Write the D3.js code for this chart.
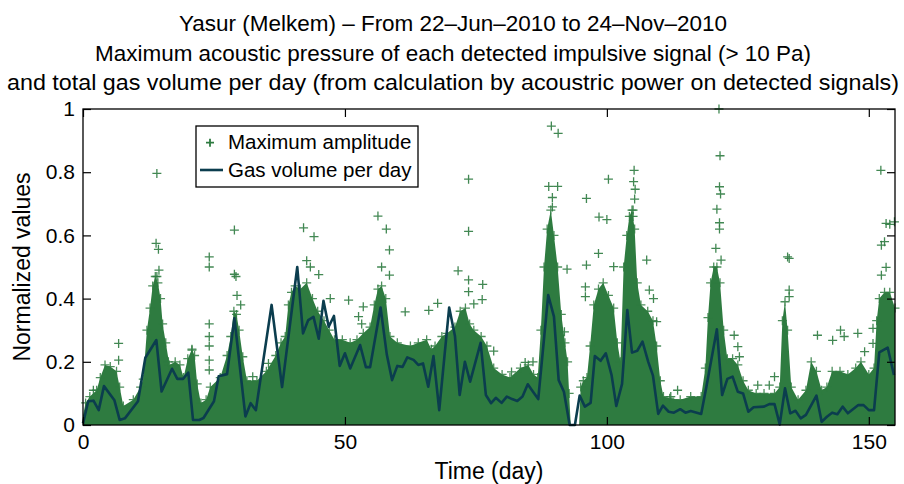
<!DOCTYPE html>
<html><head><meta charset="utf-8">
<script src="https://cdn.jsdelivr.net/npm/d3@7"></script>
<style>
html,body{margin:0;padding:0;background:#fff;}
svg text{font-family:"Liberation Sans",Arial,Helvetica,sans-serif;fill:#000;}
</style></head>
<body><svg id="c" width="904" height="484"></svg>
<script>
// ---------- data ----------
const titleLines = [
  "Yasur (Melkem) \u2013 From 22\u2013Jun\u20132010 to 24\u2013Nov\u20132010",
  "Maximum acoustic pressure of each detected impulsive signal (> 10 Pa)",
  "and total gas volume per day (from calculation by acoustric power on detected signals)"
];
const xLabel = "Time (day)";
const yLabel = "Normalized values";
const xTicks = [0, 50, 100, 150];
const yTicks = [0, 0.2, 0.4, 0.6, 0.8, 1];
const legendLabels = ["Maximum amplitude", "Gas volume per day"];

// gas volume per day: [day, normalized value]
const gasVolume = [
 [0,0.005],[1,0.075],[2,0.077],[3,0.047],[4,0.123],[6,0.078],[7,0.016],[8,0.021],[10.5,0.075],[11.9,0.213],
 [14,0.269],[15,0.106],[17,0.178],[18,0.146],[19.1,0.146],[20.1,0.166],[21,0.016],[22.2,0.016],[23,0.022],
 [25,0.075],[25.9,0.154],[27.5,0.161],[28.9,0.338],[31,0.027],[32,0.069],[33,0.047],[36,0.38],[38,0.12],
 [40.9,0.5],[42,0.29],[43,0.332],[44,0.342],[45,0.273],[45.9,0.393],[46.9,0.311],[47.9,0.345],[49,0.187],
 [50,0.227],[51,0.179],[52.9,0.253],[54,0.183],[54.8,0.183],[56.8,0.372],[58,0.222],[59,0.142],[60,0.187],
 [61,0.184],[61.9,0.214],[63.1,0.206],[64,0.19],[64.9,0.195],[65.9,0.121],[66.9,0.218],[68,0.047],[69.9,0.372],
 [71,0.282],[71.9,0.095],[72.9,0.2],[73.9,0.137],[75.9,0.26],[76.9,0.095],[77.9,0.069],[78.8,0.086],[79.9,0.07],
 [80.9,0.09],[81.9,0.082],[82.9,0.076],[83.9,0.09],[84.9,0.129],[85.9,0.105],[86.9,0.082],[88.8,0.411],
 [89.9,0.343],[90.8,0.142],[91.8,0.105],[92.9,0],[93.9,0],[94.8,0.093],[95.8,0.058],[96.9,0.07],[97.7,0.218],
 [98.8,0.203],[99.8,0.227],[100.9,0.158],[101.8,0.06],[102.9,0.13],[103.9,0.364],[104.8,0.229],[105.8,0.235],
 [106.8,0.264],[107.9,0.2],[108.8,0.156],[109.8,0.035],[110.7,0.061],[111.8,0.042],[112.8,0.039],[114,0.05],
 [115,0.039],[116,0.044],[118,0.035],[119,0.121],[121,0.303],[122,0.095],[123,0.146],[124,0.153],[125,0.105],
 [126,0.1],[127,0.042],[128,0.056],[130,0.058],[131,0.066],[132,0.066],[133,0.002],[134,0.116],[135,0.037],
 [136,0.045],[137,0.021],[138,0.032],[140,0.093],[141,0.01],[142,0.026],[143,0.039],[144,0.034],[145,0.058],
 [146,0.037],[148,0.063],[149,0.063],[150,0.047],[151,0.047],[152,0.23],[153.6,0.245],[154.8,0.158]
];

// upper edge of the dense cloud of maximum-amplitude points: [day, normalized value]
const ampEnvelope = [
 [0,0.03],[0.5,0.07],[1.3,0.09],[2.6,0.11],[3.3,0.15],[4.2,0.19],[5.2,0.185],[6.4,0.17],[7.0,0.12],[7.7,0.06],
 [9.6,0.08],[11.0,0.12],[11.5,0.145],[12.2,0.3],[12.8,0.37],[13.3,0.44],[13.8,0.47],[14.3,0.45],[14.8,0.40],
 [15.2,0.32],[15.8,0.26],[16.5,0.19],[17.6,0.2],[18.5,0.19],[19.2,0.15],[20.0,0.21],[20.8,0.24],[21.3,0.22],
 [21.8,0.13],[22.5,0.07],[23.5,0.08],[24.3,0.12],[26.2,0.15],[27.5,0.22],[28.2,0.28],[28.8,0.36],[29.3,0.35],
 [29.8,0.3],[30.5,0.216],[31.3,0.14],[33.2,0.14],[35.0,0.17],[36.8,0.22],[37.8,0.26],[38.6,0.28],[39.2,0.38],
 [39.8,0.42],[40.5,0.44],[41.5,0.43],[42.7,0.45],[43.8,0.4],[44.8,0.36],[46.0,0.33],[47.0,0.30],[48.0,0.27],
 [49.5,0.27],[51.0,0.26],[52.3,0.27],[53.5,0.29],[54.8,0.31],[55.6,0.38],[56.3,0.43],[57.0,0.44],[57.8,0.4],
 [58.6,0.28],[60,0.26],[62.5,0.25],[64,0.26],[65.6,0.27],[66.5,0.24],[67.2,0.25],[68.5,0.28],[69.5,0.29],
 [71,0.31],[72,0.36],[73,0.37],[73.8,0.32],[74.6,0.30],[76,0.28],[77.1,0.25],[78.4,0.18],[80,0.16],[81.5,0.15],
 [83.5,0.18],[85,0.19],[86,0.16],[86.8,0.15],[87.4,0.3],[88,0.5],[88.6,0.62],[89.3,0.68],[89.9,0.6],[90.6,0.5],
 [91.3,0.35],[92.0,0.26],[92.5,0.2],[92.8,0.1],[93.1,0.0],[94.7,0.0],[95.0,0.12],[95.5,0.14],[96.2,0.15],
 [96.8,0.25],[97.5,0.38],[98.4,0.43],[99.3,0.45],[100.3,0.41],[101.3,0.37],[102,0.26],[102.6,0.2],[103.2,0.5],
 [103.8,0.6],[104.3,0.66],[104.8,0.68],[105.3,0.62],[105.8,0.45],[106.5,0.38],[107.8,0.36],[108.8,0.33],
 [109.5,0.25],[110.2,0.14],[110.8,0.09],[112,0.085],[114,0.08],[116,0.09],[118,0.09],[118.8,0.18],[119.3,0.34],
 [119.8,0.45],[120.4,0.5],[121.0,0.5],[121.6,0.45],[122.3,0.3],[123,0.21],[124,0.21],[125,0.19],[126,0.14],
 [127,0.11],[128.5,0.1],[130,0.1],[132,0.1],[133,0.12],[133.5,0.33],[134.0,0.39],[134.5,0.3],[135.2,0.12],
 [136.5,0.08],[138,0.11],[139,0.2],[140,0.17],[141,0.11],[142,0.12],[143,0.17],[144.5,0.17],[146,0.16],
 [147.5,0.18],[148.5,0.2],[150,0.16],[151,0.18],[151.5,0.33],[152,0.4],[153,0.42],[154,0.42],[155,0.37]
];

// individual maximum-amplitude points standing out of the dense cloud: [day, normalized value]
const ampPoints = [
 [1.98,0.11],[6.8,0.258],[6.8,0.205],[14.1,0.796],[13.95,0.575],[14.4,0.556],[14.5,0.49],[14.1,0.47],[16.3,0.2],
 [20.8,0.237],[24.1,0.532],[24.1,0.5],[24.1,0.32],[24.1,0.28],[24.1,0.25],[24.1,0.205],[24.1,0.174],[28.9,0.617],
 [28.9,0.477],[29.2,0.47],[29.4,0.41],[30.1,0.38],[32.4,0.153],[35.4,0.195],[42.1,0.624],[44.1,0.596],[42.7,0.52],
 [43.4,0.5],[45,0.476],[47.2,0.40],[50.7,0.395],[52.6,0.343],[56.3,0.661],[57.9,0.62],[58.5,0.554],[57.0,0.50],
 [58.5,0.474],[53.5,0.374],[53.2,0.32],[61.5,0.358],[67.7,0.385],[66,0.363],[71.6,0.488],[73.6,0.778],
 [73.6,0.613],[73.6,0.459],[73.6,0.422],[76.3,0.445],[76.2,0.397],[74.6,0.383],[78.4,0.234],[84.4,0.198],
 [85.9,0.2],[81.8,0.168],[89.4,0.946],[90.7,0.923],[88.9,0.755],[90.6,0.755],[89.6,0.72],[89.6,0.69],
 [92.4,0.493],[91.9,0.295],[96.1,0.717],[96.1,0.506],[95.9,0.437],[95.9,0.406],[98.5,0.658],[100.0,0.65],
 [100.3,0.778],[98.4,0.543],[101.3,0.501],[105.2,0.806],[105.1,0.77],[105.4,0.746],[105.3,0.715],[105,0.68],
 [105,0.66],[107.6,0.522],[108.1,0.427],[108.9,0.40],[109.5,0.327],[121.4,1.0],[121.6,0.852],[121.5,0.754],
 [121.7,0.731],[121,0.683],[121.5,0.64],[121.5,0.62],[120.8,0.559],[121.8,0.522],[124.3,0.284],[125,0.248],
 [125.3,0.216],[134.5,0.532],[134.8,0.527],[134.8,0.427],[134.8,0.406],[132,0.153],[128.8,0.126],[131,0.126],
 [113.5,0.11],[112.2,0.09],[140.2,0.284],[144.6,0.30],[145.3,0.28],[143.1,0.268],[147.9,0.29],[150.8,0.306],
 [150.8,0.258],[149.2,0.232],[152.4,0.474],[153.3,0.499],[152.4,0.569],[153.3,0.638],[154.9,0.643],[154,0.635],
 [153,0.58],[152.3,0.806]
];

// ---------- layout ----------
const plot = {left: 83, right: 895, top: 109, bottom: 425};
const green = "#2e7b40", lineCol = "#0b3d4e";
const font = '"Liberation Sans",Arial,Helvetica,sans-serif';
const titleY = [31, 60.5, 89.5];
const titleWidth = [548, 716, 892];

const svg = d3.select("#c");
const x = d3.scaleLinear().domain([0, 155]).range([plot.left, plot.right]);
const y = d3.scaleLinear().domain([0, 1]).range([plot.bottom, plot.top]);

// title
svg.append("g").selectAll("text").data(titleLines).join("text")
  .attr("x", 453).attr("y", (d, i) => titleY[i])
  .attr("text-anchor", "middle").style("font-size", "22.5px")
  .attr("textLength", (d, i) => titleWidth[i]).attr("lengthAdjust", "spacingAndGlyphs")
  .text(d => d);

// cloud of amplitude points
svg.append("clipPath").attr("id", "pc").append("rect")
  .attr("x", plot.left).attr("y", plot.top - 6).attr("width", plot.right - plot.left + 6).attr("height", plot.bottom - plot.top + 6);

const area = d3.area().x(d => x(d[0])).y0(y(0)).y1(d => y(d[1]));
svg.append("path").datum(ampEnvelope).attr("d", area).attr("fill", green).attr("clip-path", "url(#pc)");

const plus = "M-4.5,0H4.5M0,-4.5V4.5";
svg.append("g").selectAll("path").data(ampEnvelope.filter(d => d[1] > 0.03)).join("path")
  .attr("transform", d => `translate(${x(d[0])},${y(d[1])})`)
  .attr("d", plus).attr("stroke", green).attr("stroke-width", 1.3).attr("fill", "none").attr("opacity", 0.85);

svg.append("g").selectAll("path").data(ampPoints).join("path")
  .attr("transform", d => `translate(${x(d[0])},${y(d[1])})`)
  .attr("d", plus).attr("stroke", green).attr("stroke-width", 1.3).attr("fill", "none").attr("opacity", 0.9);

// gas volume line
const line = d3.line().x(d => x(d[0])).y(d => y(d[1]));
svg.append("path").datum(gasVolume).attr("d", line).attr("fill", "none")
  .attr("stroke", lineCol).attr("stroke-width", 2.6).attr("stroke-linejoin", "round");

// axes (ticks inward on all sides)
function styleAxis(g) {
  g.select(".domain").remove();
  g.selectAll(".tick line").attr("stroke", "#000").attr("stroke-width", 1.2);
  g.selectAll("text").style("font-family", font).style("font-size", "21px").attr("fill", "#000");
}
svg.append("g").attr("transform", `translate(0,${plot.bottom})`)
  .call(d3.axisBottom(x).tickValues(xTicks).tickFormat(d3.format("d")).tickSizeInner(-8).tickSizeOuter(0).tickPadding(9))
  .call(styleAxis);
svg.append("g").attr("transform", `translate(0,${plot.top})`)
  .call(d3.axisTop(x).tickValues(xTicks).tickFormat("").tickSizeInner(-8).tickSizeOuter(0))
  .call(styleAxis);
svg.append("g").attr("transform", `translate(${plot.left},0)`)
  .call(d3.axisLeft(y).tickValues(yTicks).tickFormat(d3.format("~g")).tickSizeInner(-8).tickSizeOuter(0).tickPadding(8))
  .call(styleAxis);
svg.append("g").attr("transform", `translate(${plot.right},0)`)
  .call(d3.axisRight(y).tickValues(yTicks).tickFormat("").tickSizeInner(-8).tickSizeOuter(0))
  .call(styleAxis);

svg.append("rect").attr("x", plot.left).attr("y", plot.top)
  .attr("width", plot.right - plot.left).attr("height", plot.bottom - plot.top)
  .attr("fill", "none").attr("stroke", "#000").attr("stroke-width", 1.3);

// axis labels
svg.append("text").attr("x", (plot.left + plot.right) / 2).attr("y", 478.5)
  .attr("text-anchor", "middle").style("font-size", "23px").text(xLabel);
svg.append("text").attr("transform", `translate(30,${(plot.top + plot.bottom) / 2}) rotate(-90)`)
  .attr("text-anchor", "middle").style("font-size", "23px").text(yLabel);

// legend
const lg = svg.append("g");
lg.append("rect").attr("x", 196).attr("y", 126).attr("width", 222).attr("height", 61)
  .attr("fill", "#fff").attr("stroke", "#000").attr("stroke-width", 1.3);
lg.append("path").attr("transform", "translate(210,142.7)").attr("d", "M-4,0H4M0,-4V4")
  .attr("stroke", green).attr("stroke-width", 1.8).attr("fill", "none");
lg.append("line").attr("x1", 200).attr("x2", 223).attr("y1", 170).attr("y2", 170)
  .attr("stroke", lineCol).attr("stroke-width", 2.6);
lg.selectAll("text").data(legendLabels).join("text")
  .attr("x", 228).attr("y", (d, i) => [148.5, 177.3][i])
  .style("font-size", "20.5px").text(d => d);
</script></body></html>
